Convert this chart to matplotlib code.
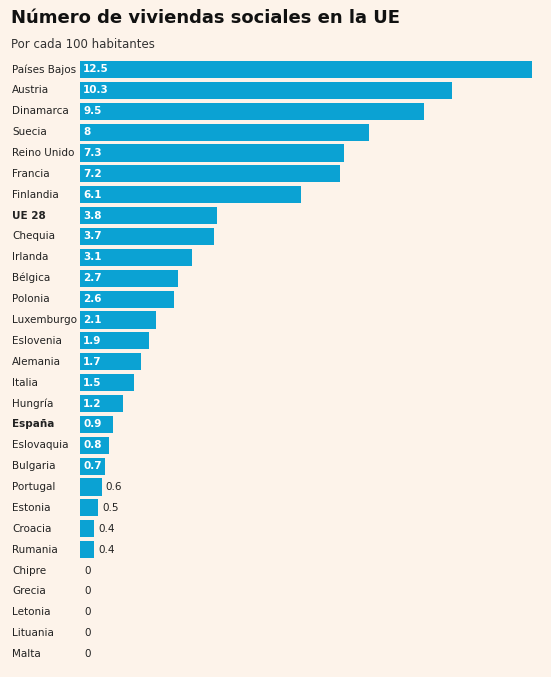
import matplotlib
matplotlib.use("Agg")
import matplotlib.pyplot as plt
from matplotlib.transforms import offset_copy

countries = ["Países Bajos","Austria","Dinamarca","Suecia","Reino Unido","Francia","Finlandia","UE 28",
             "Chequia","Irlanda","Bélgica","Polonia","Luxemburgo","Eslovenia","Alemania","Italia","Hungría",
             "España","Eslovaquia","Bulgaria","Portugal","Estonia","Croacia","Rumania","Chipre","Grecia",
             "Letonia","Lituania","Malta"]
values = [12.5,10.3,9.5,8,7.3,7.2,6.1,3.8,3.7,3.1,2.7,2.6,2.1,1.9,1.7,1.5,1.2,0.9,0.8,0.7,0.6,0.5,0.4,0.4,0,0,0,0,0]
labels = ["12.5","10.3","9.5","8","7.3","7.2","6.1","3.8","3.7","3.1","2.7","2.6","2.1","1.9","1.7","1.5","1.2",
          "0.9","0.8","0.7","0.6","0.5","0.4","0.4","0","0","0","0","0"]
bold = {"UE 28","España"}

bg = "#fdf3ea"
W, H = 551, 677
fig = plt.figure(figsize=(W/100, H/100), dpi=100, facecolor=bg)
ax = fig.add_axes([80/W, 1-664.5/H, 452/W, (664.5-59)/H])
ax.set_facecolor(bg)
n = len(countries)
ys = list(range(n))
ax.barh(ys, values, height=0.82, color="#0ba2d3")
ax.set_xlim(0, 12.5)
ax.set_ylim(n-0.5, -0.5)
ax.axis("off")

for y, c, v, l in zip(ys, countries, values, labels):
    ax.text(-68/452, y, c, transform=ax.get_yaxis_transform(), ha="left", va="center",
            fontsize=7.5, color="#222222", fontweight="bold" if c in bold else "normal")
    if v >= 0.7:
        t = offset_copy(ax.transData, fig=fig, x=3, y=0, units="dots")
        ax.text(0, y, l, transform=t, ha="left", va="center", fontsize=7.5, color="white", fontweight="bold")
    else:
        t = offset_copy(ax.transData, fig=fig, x=4, y=0, units="dots")
        ax.text(v, y, l, transform=t, ha="left", va="center", fontsize=7.5, color="#222222")

fig.text(11/W, 1-18/H, "Número de viviendas sociales en la UE", fontsize=13, fontweight="bold",
         color="#111111", va="center", ha="left")
fig.text(11/W, 1-45/H, "Por cada 100 habitantes", fontsize=8.5, color="#333333", va="center", ha="left")
fig.savefig("out.png", dpi=100, facecolor=bg)
